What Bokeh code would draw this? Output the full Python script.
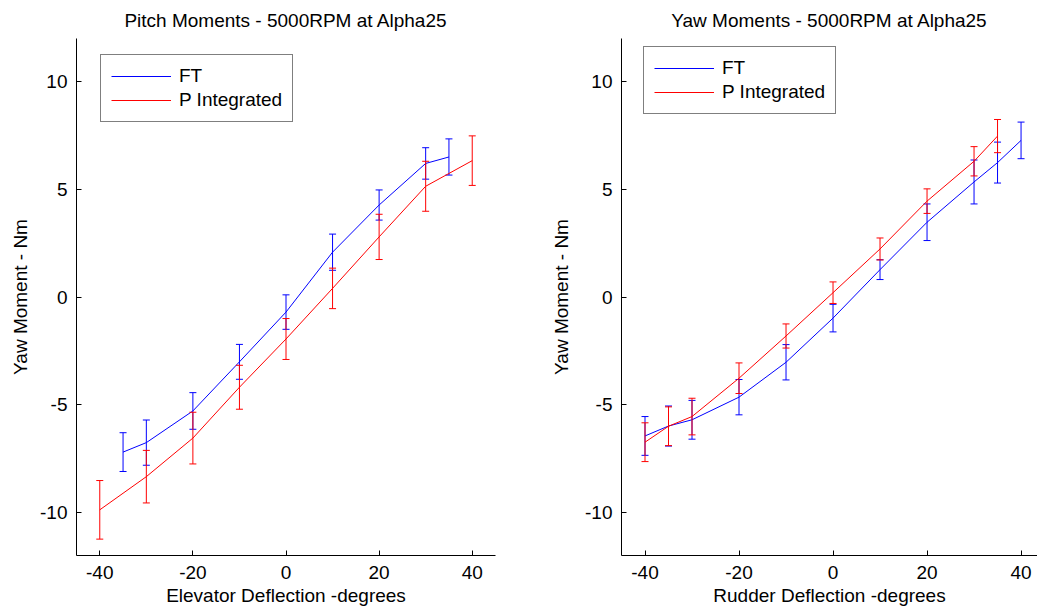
from bokeh.plotting import figure
from bokeh.layouts import row
from bokeh.models import Range1d, ColumnDataSource, FixedTicker, Legend, LegendItem
from bokeh.embed import file_html
from bokeh.resources import INLINE

# ---- data ----
pitch_ft_x = [-35, -30, -20, -10, 0, 10, 20, 30, 35]
pitch_ft_y = [-7.2, -6.76, -5.29, -3.01, -0.7, 2.08, 4.27, 6.2, 6.5]
pitch_ft_err = [0.9, 1.05, 0.85, 0.81, 0.8, 0.84, 0.7, 0.73, 0.84]

pitch_pi_x = [-40, -30, -20, -10, 0, 10, 20, 30, 40]
pitch_pi_y = [-9.88, -8.34, -6.55, -4.19, -1.95, 0.4, 2.79, 5.14, 6.33]
pitch_pi_err = [1.36, 1.22, 1.2, 1.02, 0.95, 0.94, 1.05, 1.16, 1.15]

yaw_ft_x = [-40, -35, -30, -20, -10, 0, 10, 20, 30, 35, 40]
yaw_ft_y = [-6.45, -5.99, -5.7, -4.65, -3.03, -0.98, 1.27, 3.47, 5.34, 6.24, 7.27]
yaw_ft_err = [0.9, 0.93, 0.9, 0.82, 0.82, 0.64, 0.46, 0.85, 1.02, 0.95, 0.85]

yaw_pi_x = [-40, -35, -30, -20, -10, 0, 10, 20, 30, 35]
yaw_pi_y = [-6.74, -6.0, -5.55, -3.77, -1.81, 0.2, 2.23, 4.45, 6.3, 7.47]
yaw_pi_err = [0.9, 0.9, 0.85, 0.71, 0.56, 0.5, 0.51, 0.57, 0.68, 0.77]

x_ticks = [-40, -20, 0, 20, 40]
x_tick_labels = ["-40", "-20", "0", "20", "40"]
y_ticks = [-10, -5, 0, 5, 10]
y_tick_labels = ["-10", "-5", "0", "5", "10"]
series_labels = ["FT", "P Integrated"]

FONT = "Liberation Sans"
FS = "19px"
BLUE = "#0000ff"
RED = "#ff0000"


def add_series(p, xs, ys, errs, color):
    src = ColumnDataSource(dict(
        x=xs, y=ys,
        upper=[a + b for a, b in zip(ys, errs)],
        lower=[a - b for a, b in zip(ys, errs)],
    ))
    # error bars: vertical segments with short horizontal caps
    p.segment(x0="x", y0="lower", x1="x", y1="upper", source=src,
              line_color=color, line_width=1)
    p.scatter("x", "upper", source=src, marker="dash", size=7,
              line_color=color, line_width=1)
    p.scatter("x", "lower", source=src, marker="dash", size=7,
              line_color=color, line_width=1)
    return p.line("x", "y", source=src, line_color=color, line_width=1)


def make_fig(title, xlabel, width, xr, border_right, ylabel_standoff):
    p = figure(width=width, height=611, output_backend="svg", toolbar_location=None,
               x_range=Range1d(*xr), y_range=Range1d(-12, 12),
               min_border_left=76, min_border_right=border_right,
               min_border_top=38, min_border_bottom=56,
               title=title)
    p.title.text_font = FONT
    p.title.text_font_size = FS
    p.title.text_font_style = "normal"
    p.title.text_color = "black"
    p.title.align = "center"
    p.title.standoff = 15
    p.outline_line_color = None
    p.xgrid.visible = False
    p.ygrid.visible = False
    for ax in (p.xaxis[0], p.yaxis[0]):
        ax.axis_line_color = "black"
        ax.axis_line_width = 1
        ax.major_tick_in = 5
        ax.major_tick_out = 0
        ax.major_tick_line_color = "black"
        ax.minor_tick_line_color = None
        ax.major_label_text_font = FONT
        ax.major_label_text_font_size = FS
        ax.major_label_text_color = "black"
        ax.axis_label_text_font = FONT
        ax.axis_label_text_font_size = FS
        ax.axis_label_text_font_style = "normal"
        ax.axis_label_text_color = "black"
    p.xaxis.ticker = FixedTicker(ticks=x_ticks)
    p.yaxis.ticker = FixedTicker(ticks=y_ticks)
    p.xaxis.major_label_overrides = dict(zip(x_ticks, x_tick_labels))
    p.yaxis.major_label_overrides = dict(zip(y_ticks, y_tick_labels))
    p.xaxis.axis_label = xlabel
    p.yaxis.axis_label = "Yaw Moment - Nm"
    p.xaxis.major_label_standoff = 10
    p.xaxis.axis_label_standoff = 3
    p.yaxis.major_label_standoff = 9
    p.yaxis.axis_label_standoff = ylabel_standoff
    return p


def add_legend(p, renderers, loc):
    lg = Legend(items=[LegendItem(label=lab, renderers=[r])
                       for lab, r in zip(series_labels, renderers)],
                location=loc)
    lg.border_line_color = "black"
    lg.border_line_width = 1.5
    lg.background_fill_color = "white"
    lg.background_fill_alpha = 1
    lg.label_text_font = FONT
    lg.label_text_font_size = FS
    lg.label_text_color = "black"
    lg.glyph_width = 60
    lg.glyph_height = 20
    lg.spacing = 2
    lg.padding = 10
    lg.margin = 0
    lg.label_standoff = 8
    p.add_layout(lg)


p1 = make_fig("Pitch Moments - 5000RPM at Alpha25", "Elevator Deflection -degrees",
              545, (-45, 45), 50, 6)
r1 = add_series(p1, pitch_ft_x, pitch_ft_y, pitch_ft_err, BLUE)
r2 = add_series(p1, pitch_pi_x, pitch_pi_y, pitch_pi_err, RED)
add_legend(p1, [r1, r2], (24, 433))

p2 = make_fig("Yaw Moments - 5000RPM at Alpha25", "Rudder Deflection -degrees",
              492, (-45, 43.5), 0, 10)
r3 = add_series(p2, yaw_ft_x, yaw_ft_y, yaw_ft_err, BLUE)
r4 = add_series(p2, yaw_pi_x, yaw_pi_y, yaw_pi_err, RED)
add_legend(p2, [r3, r4], (22, 441))

layout = row(p1, p2, spacing=0)
open("out.html", "w").write(file_html(layout, INLINE))
